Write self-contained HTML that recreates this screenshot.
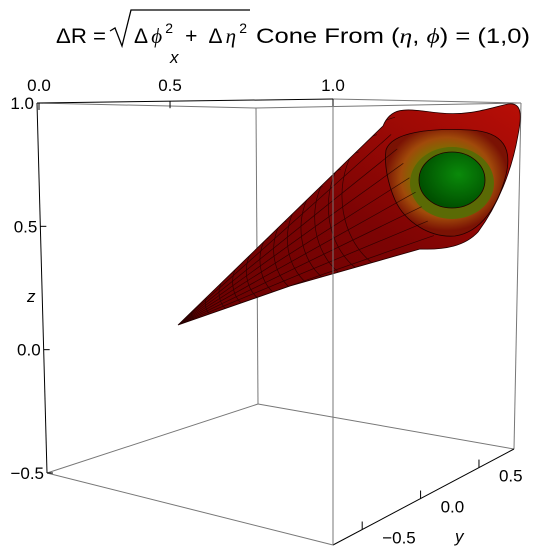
<!DOCTYPE html>
<html><head><meta charset="utf-8"><style>
html,body{margin:0;padding:0;background:#fff;}
svg{display:block;font-family:"Liberation Sans",sans-serif;}
</style></head><body>
<svg id="chart" width="554" height="556" viewBox="0 0 554 556">
<defs>
<linearGradient id="gOuter" x1="0" y1="1" x2="1" y2="0">
<stop offset="0" stop-color="#6a0000"/><stop offset="0.5" stop-color="#7c0404"/><stop offset="1" stop-color="#b80e06"/>
</linearGradient>
<radialGradient id="gRing" cx="0.5" cy="0.45" r="0.5">
<stop offset="0.5" stop-color="#7a7000"/><stop offset="0.75" stop-color="#a04a0a"/><stop offset="1" stop-color="#7a1204"/>
</radialGradient>
<radialGradient id="gGreen" cx="0.6" cy="0.4" r="0.6">
<stop offset="0" stop-color="#0a8a0a"/><stop offset="1" stop-color="#005000"/>
</radialGradient>
<clipPath id="coneClip"><path d="M178,325 L383,126 C392,104 410,110 440,113 C470,116 490,108 508,104 C522,102 522,115 518,135 C512,170 498,205 478,232 C465,246 445,250 420,249 L290,286 Z"/></clipPath>
</defs>
<g font-size="21" fill="#000">
<text x="56" y="43" textLength="50" lengthAdjust="spacingAndGlyphs">ΔR =</text>
<path d="M110,31 l5,-3 l7,18 l9,-36 h119" fill="none" stroke="#000" stroke-width="1.3"/>
<text x="134" y="43" textLength="113" lengthAdjust="spacing">Δ<tspan font-style="italic" font-family="Liberation Serif">ϕ</tspan><tspan font-size="14" dy="-10">2</tspan><tspan dy="10"> + Δ</tspan><tspan font-style="italic" font-family="Liberation Serif">η</tspan><tspan font-size="14" dy="-10">2</tspan></text>
<text x="256" y="43" textLength="274" lengthAdjust="spacingAndGlyphs">Cone From (<tspan font-style="italic" font-family="Liberation Serif">η</tspan>, <tspan font-style="italic" font-family="Liberation Serif">ϕ</tspan>) = (1,0)</text>
</g>
<g id="box" fill="none" stroke="#777" stroke-width="1">
<line x1="256" y1="108" x2="258" y2="404"/>
<line x1="47" y1="473" x2="258" y2="404"/>
<line x1="258" y1="404" x2="514" y2="449"/>
<line x1="37" y1="103" x2="256" y2="108"/>
<line x1="256" y1="108" x2="521" y2="103"/>
<line x1="333" y1="99" x2="521" y2="103"/>
<line x1="521" y1="103" x2="514" y2="449"/>
<line x1="47" y1="473" x2="333" y2="545"/>
</g>
<g id="surface" stroke="#200" stroke-width="0.8">
<path d="M178,325 L383,126 C392,104 410,110 440,113 C470,116 490,108 508,104 C522,102 522,115 518,135 C512,170 498,205 478,232 C465,246 445,250 420,249 L290,286 Z" fill="url(#gOuter)"/>
<path d="M386,150 C392,132 430,128 470,130 C505,132 512,150 506,175 C498,205 482,232 455,236 C430,238 405,222 395,200 C388,184 384,165 386,150 Z" fill="url(#gRing)"/>
<ellipse cx="452" cy="183" rx="42" ry="36" fill="#5a6a05" stroke="none"/>
<ellipse cx="452" cy="180" rx="33" ry="28" fill="url(#gGreen)"/>
<g id="mesh" clip-path="url(#coneClip)" fill="none" stroke="#1a0000" stroke-width="0.7" opacity="0.75"></g>
</g>
<g id="axes" stroke="#000" stroke-width="1" fill="none">
<line x1="37" y1="103" x2="333" y2="99"/>
<line x1="37" y1="103" x2="47" y2="473"/>
<line x1="333" y1="545" x2="514" y2="449"/>
<line x1="333" y1="99" x2="333" y2="545" stroke="#777"/>
</g>
<g id="ticks" stroke="#000" stroke-width="1"></g>
<g id="labels" font-size="17" fill="#000"></g>
<text x="170" y="63" font-size="17" font-style="italic">x</text>
<text x="455" y="542" font-size="17" font-style="italic">y</text>
<text x="27" y="302" font-size="17" font-style="italic">z</text>
</svg>
<script>
const xTicks=[0.0,0.5,1.0];
const xTickLabels=["0.0","0.5","1.0"];
const yTicks=[-0.5,0.0,0.5];
const yTickLabels=["−0.5","0.0","0.5"];
const zTicks=[-0.5,0.0,0.5,1.0];
const zTickLabels=["−0.5","0.0","0.5","1.0"];
const NS="http://www.w3.org/2000/svg";
function xPos(v){const k=0.804;const t=v*k/(1+(k-1)*v);return [39+t*294,103-t*4];}
function yPos(v){const t=(v+0.75)/1.55;return [333+t*181,545-t*96];}
function zPos(v){const t=(v+0.5)/1.5;return [47-t*10,473-t*370];}
const tg=document.getElementById('ticks'),lg=document.getElementById('labels');
function mk(tag,attrs){const e=document.createElementNS(NS,tag);for(const k in attrs)e.setAttribute(k,attrs[k]);return e;}
xTicks.forEach((v,i)=>{const [x,y]=xPos(v);
 const l=mk('line',{x1:x,y1:y,x2:x,y2:y+7});tg.appendChild(l);
 const t=mk('text',{x:x,y:91,'text-anchor':'middle'});t.textContent=xTickLabels[i];lg.appendChild(t);});
yTicks.forEach((v,i)=>{const [x,y]=yPos(v);
 const l=mk('line',{x1:x,y1:y,x2:x,y2:y-8});tg.appendChild(l);
 const t=mk('text',{x:x+20,y:y+14,'text-anchor':'start'});t.textContent=yTickLabels[i];lg.appendChild(t);});
zTicks.forEach((v,i)=>{const [x,y]=zPos(v);
 const l=mk('line',{x1:x,y1:y,x2:x+6,y2:y});tg.appendChild(l);
 const t=mk('text',{x:x-3,y:y+6,'text-anchor':'end'});t.textContent=zTickLabels[i];lg.appendChild(t);});
const mesh=document.getElementById('mesh');
for(let k=1;k<=12;k++){const f=k/13;
 const cx=178+f*(420-178),cy=325+f*(185-325),rx=f*70,ry=f*85;
 const p=mk('path',{d:`M${cx-rx*0.1},${cy-ry} A${rx} ${ry} 0 0 0 ${cx+rx*0.3},${cy+ry}`});
 mesh.appendChild(p);}
for(let k=0;k<10;k++){const a=k/9;
 const ex=385+a*(440-385),ey=120+a*(250-120);
 const p=mk('line',{x1:178,y1:325,x2:ex,y2:ey});
 mesh.appendChild(p);}
</script>
</body></html>
